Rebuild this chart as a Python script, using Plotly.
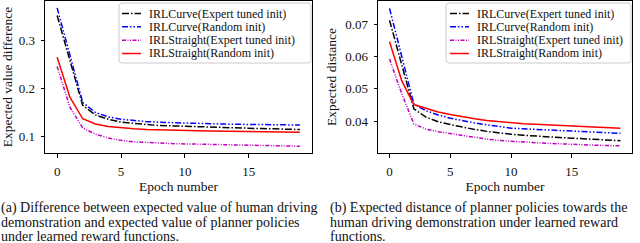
import plotly.graph_objects as go
from plotly.subplots import make_subplots

epochs = list(range(20))

# (a) Expected value difference
val_curve_expert = [0.352, 0.258, 0.165, 0.145, 0.136, 0.130, 0.127, 0.125, 0.123, 0.122,
                    0.121, 0.1203, 0.1195, 0.1188, 0.118, 0.1173, 0.1165, 0.116, 0.1153, 0.1146]
val_curve_random = [0.368, 0.268, 0.171, 0.150, 0.141, 0.136, 0.133, 0.131, 0.1297, 0.1287,
                    0.1278, 0.1272, 0.1266, 0.126, 0.1255, 0.125, 0.1247, 0.1245, 0.1242, 0.124]
val_straight_expert = [0.246, 0.161, 0.118, 0.105, 0.097, 0.092, 0.089, 0.0875, 0.086, 0.0853,
                       0.0847, 0.0842, 0.0837, 0.0832, 0.0826, 0.082, 0.0813, 0.0807, 0.0802, 0.0798]
val_straight_random = [0.265, 0.182, 0.137, 0.126, 0.121, 0.118, 0.1162, 0.1148, 0.1138, 0.113,
                       0.1125, 0.112, 0.1116, 0.1112, 0.1108, 0.1104, 0.11, 0.1097, 0.1094, 0.109]

# (b) Expected distance
dist_curve_expert = [0.0712, 0.0575, 0.0438, 0.0412, 0.0398, 0.0389, 0.0381, 0.0374, 0.0368, 0.0363,
                     0.0359, 0.0356, 0.0353, 0.0351, 0.0349, 0.0347, 0.0345, 0.0343, 0.0341, 0.0339]
dist_curve_random = [0.0749, 0.0602, 0.0453, 0.0432, 0.0419, 0.0409, 0.0401, 0.0394, 0.0388, 0.0383,
                     0.0378, 0.0376, 0.0374, 0.0372, 0.0371, 0.037, 0.0368, 0.0366, 0.0364, 0.0362]
dist_straight_expert = [0.0592, 0.0485, 0.0391, 0.0375, 0.0367, 0.0361, 0.0354, 0.0348, 0.0344, 0.034,
                        0.0337, 0.0335, 0.0333, 0.0331, 0.0329, 0.0327, 0.0326, 0.0325, 0.0324, 0.0323]
dist_straight_random = [0.0646, 0.0525, 0.0451, 0.0440, 0.0428, 0.0420, 0.0413, 0.0407, 0.0402, 0.0398,
                        0.0395, 0.0392, 0.039, 0.0388, 0.0386, 0.0385, 0.0383, 0.0381, 0.038, 0.0378]

series_names = ["IRLCurve(Expert tuned init)", "IRLCurve(Random init)",
                "IRLStraight(Expert tuned init)", "IRLStraight(Random init)"]
series_colors = ["#000000", "#0000ff", "#bf00bf", "#ff0000"]
series_dashes = ["7px,2px,1.5px,2px", "6px,2px,1.5px,2px,1.5px,2px",
                 "4px,1.5px,1px,1.5px,1px,1.5px", "solid"]

left_data = [val_curve_expert, val_curve_random, val_straight_expert, val_straight_random]
right_data = [dist_curve_expert, dist_curve_random, dist_straight_expert, dist_straight_random]

left_yticks = [0.1, 0.2, 0.3]
right_yticks = [0.04, 0.05, 0.06, 0.07]
xticks = [0, 5, 10, 15]

caption_a = ["(a) Difference between expected value of human driving",
             "demonstration and expected value of planner policies",
             "under learned reward functions."]
caption_b = ["(b) Expected distance of planner policies towards the",
             "human driving demonstration under learned reward",
             "functions."]

W, H = 640, 243
fig = make_subplots(rows=1, cols=2)

for i in range(4):
    fig.add_trace(go.Scatter(x=epochs, y=left_data[i], mode="lines", name=series_names[i],
                             line=dict(color=series_colors[i], width=1.5, dash=series_dashes[i]),
                             showlegend=False), row=1, col=1)
    fig.add_trace(go.Scatter(x=epochs, y=right_data[i], mode="lines", name=series_names[i],
                             line=dict(color=series_colors[i], width=1.5, dash=series_dashes[i]),
                             showlegend=False), row=1, col=2)

tickfont = dict(family="Liberation Serif", size=13, color="#111")
titlefont = dict(family="Liberation Serif", size=13.5, color="#111")
common = dict(showline=True, linecolor="black", linewidth=1, mirror=True, ticks="outside",
              ticklen=3.5, tickwidth=0.8, tickcolor="black", showgrid=False, zeroline=False,
              tickfont=tickfont, ticklabelstandoff=3)

y_top = 1 - 1 / H
y_bot = 1 - 153 / H

fig.update_xaxes(common, range=[-0.95, 19.95], tickvals=xticks,
                 title=dict(text="Epoch number", font=titlefont, standoff=2))
fig.update_xaxes(domain=[45 / W, 312 / W], row=1, col=1)
fig.update_xaxes(domain=[378 / W, 632 / W], row=1, col=2)
fig.update_yaxes(common)
fig.update_yaxes(domain=[y_bot, y_top], range=[0.0657, 0.3823], tickvals=left_yticks,
                 title=dict(text="Expected value difference", font=titlefont, standoff=5), row=1, col=1)
fig.update_yaxes(domain=[y_bot, y_top], range=[0.0301, 0.0772], tickvals=right_yticks,
                 title=dict(text="Expected distance", font=titlefont, standoff=5), row=1, col=2)


# Hand-drawn legends (matplotlib-style compact legend)
def px_x(v):
    return v / W


def px_y(v):
    return 1 - v / H


def add_legend(box_x0, box_x1, line_x0, line_x1, text_x):
    by0, by1, r = 3, 63, 3
    x0, x1 = px_x(box_x0), px_x(box_x1)
    yt, yb = px_y(by0), px_y(by1)
    rx, ry = r / W, r / H
    path = (f"M {x0+rx},{yt} L {x1-rx},{yt} Q {x1},{yt} {x1},{yt-ry} "
            f"L {x1},{yb+ry} Q {x1},{yb} {x1-rx},{yb} L {x0+rx},{yb} "
            f"Q {x0},{yb} {x0},{yb+ry} L {x0},{yt-ry} Q {x0},{yt} {x0+rx},{yt} Z")
    fig.add_shape(type="path", path=path, xref="paper", yref="paper",
                  line=dict(color="#cccccc", width=1), fillcolor="rgba(255,255,255,0.85)", layer="above")
    rows = [13.5, 26.8, 40.2, 53.5]
    for i in range(4):
        fig.add_shape(type="line", xref="paper", yref="paper",
                      x0=px_x(line_x0), x1=px_x(line_x1), y0=px_y(rows[i]), y1=px_y(rows[i]),
                      line=dict(color=series_colors[i], width=1.5, dash=series_dashes[i]), layer="above")
        fig.add_annotation(text=series_names[i], xref="paper", yref="paper",
                           x=px_x(text_x), y=px_y(rows[i]), xanchor="left", yanchor="middle",
                           showarrow=False, borderpad=0,
                           font=dict(family="Liberation Serif", size=12, color="#111"))


add_legend(119, 311, 122, 141, 148)
add_legend(446, 631, 450, 469, 476)

capfont = dict(family="Liberation Serif", size=14, color="#111")
cap_y = [207.5, 222, 236.5]
for j in range(3):
    fig.add_annotation(text=caption_a[j], x=0 / W, y=1 - cap_y[j] / H, xref="paper", yref="paper",
                       xanchor="left", yanchor="middle", showarrow=False, font=capfont, borderpad=0)
    fig.add_annotation(text=caption_b[j], x=329 / W, y=1 - cap_y[j] / H, xref="paper", yref="paper",
                       xanchor="left", yanchor="middle", showarrow=False, font=capfont, borderpad=0)

fig.update_layout(width=W, height=H, margin=dict(l=0, r=0, t=0, b=0),
                  plot_bgcolor="white", paper_bgcolor="white", showlegend=False)

fig.write_html("out.html", config={"displayModeBar": False},
               post_script="document.body.style.margin='0';")
